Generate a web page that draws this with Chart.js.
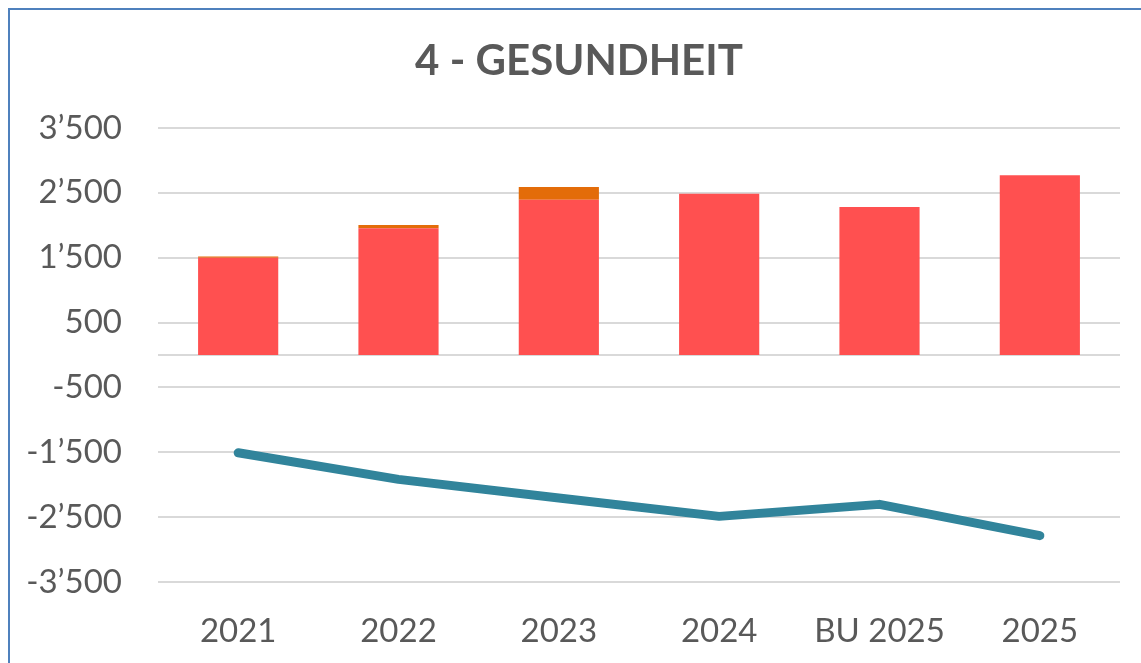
<!DOCTYPE html>
<html>
<head>
<meta charset="utf-8">
<script src="https://cdn.jsdelivr.net/npm/chart.js@4/dist/chart.umd.min.js"></script>
<style>
  html, body { margin: 0; padding: 0; background: #ffffff; overflow: hidden; }
  #wrap { position: relative; width: 1141px; height: 663px; }
  #frame { position: absolute; left: 8px; top: 8px; width: 2000px; height: 2000px;
           border-left: 2px solid #4F81BD; border-top: 2px solid #4F81BD; pointer-events: none; }
  canvas { position: absolute; left: 0; top: 0; }
</style>
</head>
<body>
<div id="wrap">
  <canvas id="c" width="1141" height="663"></canvas>
  <div id="frame"></div>
</div>
<script>
const categories = ['2021', '2022', '2023', '2024', 'BU 2025', '2025'];
const mainValues = [1500, 1955, 2395, 2485, 2282, 2770];
const extraValues = [20, 50, 195, 0, 0, 0];
const lineValues = [-1508, -1918, -2206, -2488, -2303, -2785];
const yTickValues = [-3500, -2500, -1500, -500, 500, 1500, 2500, 3500];
const yTickLabels = ['-3’500', '-2’500', '-1’500', '-500', '500', '1’500', '2’500', '3’500'];
const titleText = '4 - GESUNDHEIT';

const zeroLine = {
  id: 'zeroLine',
  beforeDatasetsDraw(chart) {
    const { ctx, chartArea, scales } = chart;
    const y = scales.y.getPixelForValue(0);
    ctx.save();
    ctx.strokeStyle = '#d9d9d9';
    ctx.lineWidth = 2;
    ctx.beginPath();
    ctx.moveTo(chartArea.left, y);
    ctx.lineTo(chartArea.right, y);
    ctx.stroke();
    ctx.restore();
  }
};

const chartTitle = {
  id: 'chartTitle',
  afterDraw(chart) {
    const ctx = chart.ctx;
    ctx.save();
    ctx.fillStyle = '#595959';
    ctx.font = 'bold 42px Lato';
    ctx.textAlign = 'center';
    ctx.textBaseline = 'middle';
    ctx.fillText(titleText, 579, 61);
    ctx.restore();
  }
};

new Chart(document.getElementById('c'), {
  type: 'bar',
  data: {
    labels: categories,
    datasets: [
      {
        type: 'line',
        label: 'Saldo',
        data: lineValues,
        stack: 'line',
        borderColor: '#31849B',
        backgroundColor: '#31849B',
        borderWidth: 9,
        borderCapStyle: 'round',
        borderJoinStyle: 'round',
        pointRadius: 0,
        pointHoverRadius: 0,
        tension: 0,
        fill: false,
        order: 0
      },
      {
        label: 'Aufwand',
        data: mainValues,
        stack: 'bars',
        backgroundColor: '#FF5050',
        borderWidth: 0,
        categoryPercentage: 1.0,
        barPercentage: 0.5,
        order: 1
      },
      {
        label: 'Zusatz',
        data: extraValues,
        stack: 'bars',
        backgroundColor: '#E36C09',
        borderWidth: 0,
        categoryPercentage: 1.0,
        barPercentage: 0.5,
        order: 1
      }
    ]
  },
  options: {
    responsive: false,
    animation: false,
    events: [],
    layout: { padding: { left: 0, right: 21, top: 128, bottom: 13 } },
    plugins: {
      legend: { display: false },
      tooltip: { enabled: false },
      title: { display: false }
    },
    scales: {
      x: {
        stacked: true,
        afterFit(scale) { scale.height = 68; },
        grid: { display: false, drawTicks: false },
        border: { display: false },
        ticks: {
          color: '#595959',
          padding: 30,
          font: { family: 'Lato', size: 33 }
        }
      },
      y: {
        stacked: true,
        min: -3500,
        max: 3500,
        afterFit(scale) { scale.width = 158; },
        afterBuildTicks(scale) { scale.ticks = yTickValues.map(v => ({ value: v })); },
        grid: { color: '#d9d9d9', lineWidth: 2, drawTicks: false },
        border: { display: false },
        ticks: {
          color: '#595959',
          padding: 36,
          font: { family: 'Lato', size: 33 },
          callback(value) {
            const i = yTickValues.indexOf(value);
            return i >= 0 ? yTickLabels[i] : '';
          }
        }
      }
    }
  },
  plugins: [zeroLine, chartTitle]
});
</script>
</body>
</html>
